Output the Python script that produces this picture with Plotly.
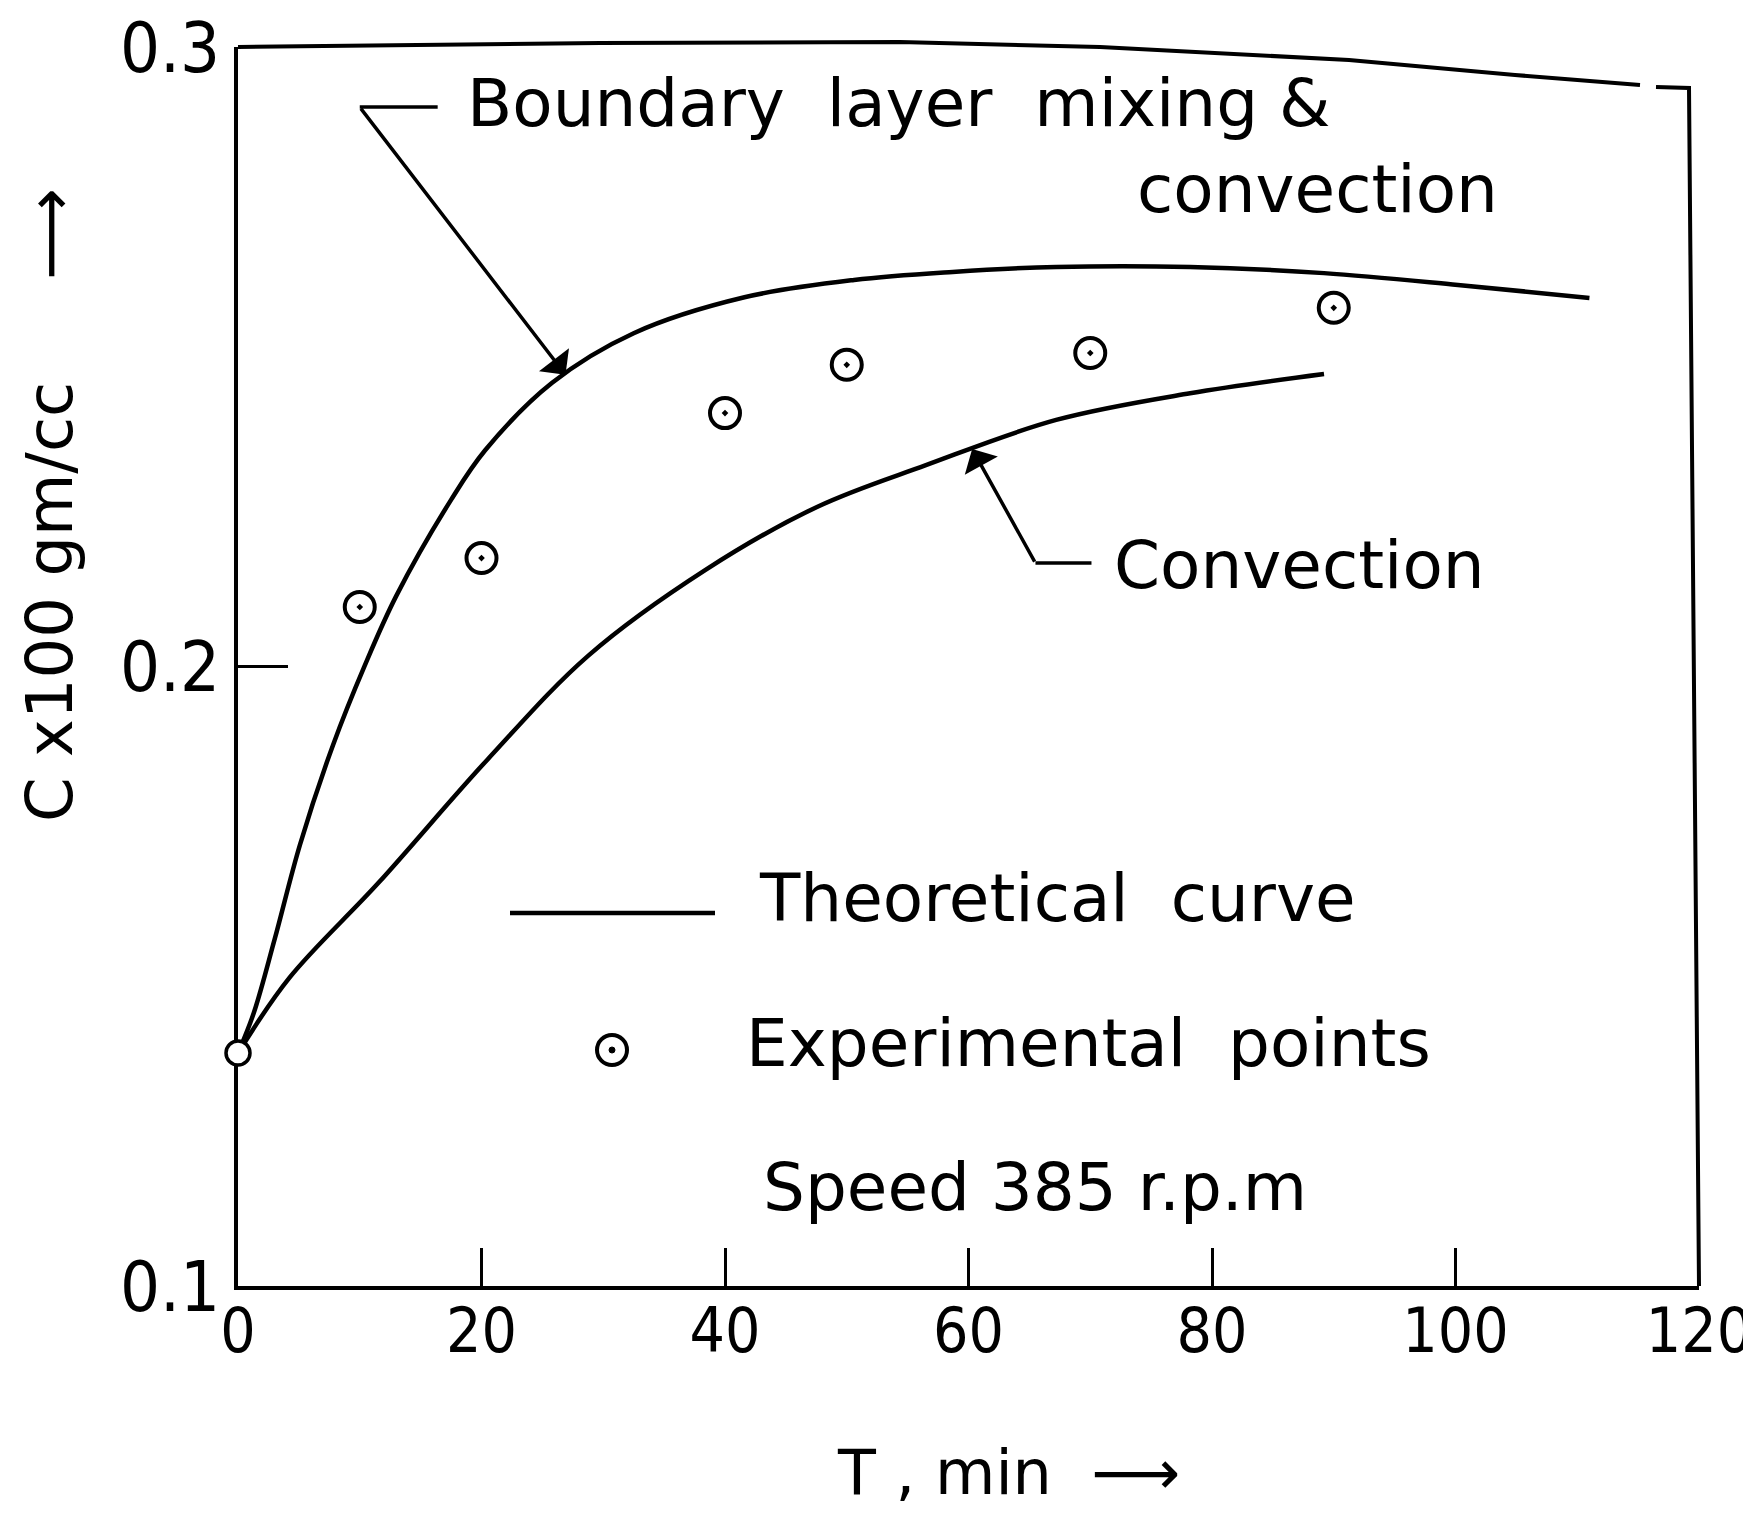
import plotly.graph_objects as go

# ---------------- data ----------------
upper_x = [0, 1.3, 3.0, 5.1, 7.8, 10.4, 13.0, 17.5, 20.3, 25.8, 32.5, 41.6, 50.6, 58.7, 67.2, 78.2, 89.2, 100.2, 111.0]
upper_y = [0.1376, 0.1441, 0.1559, 0.1713, 0.1873, 0.2001, 0.2114, 0.2269, 0.2349, 0.2458, 0.2538, 0.2596,
           0.2624, 0.2637, 0.2645, 0.2645, 0.2635, 0.2616, 0.2595]

lower_x = [0, 4.2, 11.5, 20.5, 28.8, 38.4, 47.6, 56.5, 67.2, 78.2, 89.2]
lower_y = [0.1376, 0.1497, 0.1650, 0.1850, 0.2018, 0.2156, 0.2258, 0.2325, 0.2398, 0.2441, 0.2472]

exp_x = [10, 20, 40, 50, 70, 90]
exp_y = [0.2096, 0.2175, 0.2409, 0.2487, 0.2506, 0.2579]

start_x = [0]
start_y = [0.1376]

x_ticks = [0, 20, 40, 60, 80, 100, 120]
y_ticks = [0.1, 0.2, 0.3]
y_ticktext = ["0.1", "0.2", "0.3"]

# ---------------- layout geometry (target page pixels) ----------------
OFF = 8                      # default page body margin
FW, FH = 1751 - OFF, 1516 - OFF
L, R, T, B = 238, 1699, 47, 1286


def pxx(x):
    return (x - L) / (R - L)


def pxy(y):
    return (B - y) / (B - T)


TICKFONT = "Liberation Sans Narrow, Arial Narrow, DejaVu Sans Condensed, Liberation Sans, sans-serif"
TEXTFONT = "DejaVu Sans, Liberation Sans, sans-serif"
NB = "\u00a0"

fig = go.Figure()

fig.add_trace(go.Scatter(x=upper_x, y=upper_y, mode="lines",
                         line=dict(color="black", width=4.5, shape="spline", smoothing=1.0),
                         name="Boundary layer mixing & convection", showlegend=False, cliponaxis=False))
fig.add_trace(go.Scatter(x=lower_x, y=lower_y, mode="lines",
                         line=dict(color="black", width=4.5, shape="spline", smoothing=1.0),
                         name="Convection", showlegend=False, cliponaxis=False))
fig.add_trace(go.Scatter(x=exp_x, y=exp_y, mode="markers",
                         marker=dict(symbol="circle-open-dot", size=30, color="black", line=dict(width=4, color="black")),
                         name="Experimental points", showlegend=False))
fig.add_trace(go.Scatter(x=start_x, y=start_y, mode="markers",
                         marker=dict(symbol="circle", size=24, color="white", line=dict(width=3.5, color="black")),
                         name="Initial", showlegend=False, cliponaxis=False))

shapes = []
# curved top border and right border (hand-drawn frame)
top_px = [(238, 47), (600, 43), (900, 42), (1100, 47), (1349, 60), (1515, 75), (1640, 85)]
path = "M " + " L ".join(f"{pxx(a):.5f},{pxy(b):.5f}" for a, b in top_px)
shapes.append(dict(type="path", xref="paper", yref="paper", path=path, line=dict(color="black", width=4)))
corner_px = [(1656, 87), (1689, 88), (1699, 1286)]
path2 = "M " + " L ".join(f"{pxx(a):.5f},{pxy(b):.5f}" for a, b in corner_px)
shapes.append(dict(type="path", xref="paper", yref="paper", path=path2, line=dict(color="black", width=4)))

# label leaders: start of the leader, end of its horizontal part, and arrow tip on the curve
bl_start, bl_hend, bl_tip = (10.0, 0.2903), (16.4, 0.2903), (26.9, 0.2471)
cv_start, cv_hend, cv_tip = (65.5, 0.2167), (70.1, 0.2167), (60.3, 0.2351)
for s, e in ((bl_start, bl_hend), (cv_start, cv_hend)):
    shapes.append(dict(type="line", xref="x", yref="y", x0=s[0], y0=s[1], x1=e[0], y1=e[1],
                       line=dict(color="black", width=3.5)))

# legend keys
shapes.append(dict(type="line", xref="paper", yref="paper", x0=pxx(510), x1=pxx(715), y0=pxy(913), y1=pxy(913),
                   line=dict(color="black", width=4.5)))
shapes.append(dict(type="circle", xref="paper", yref="paper", xsizemode="pixel", ysizemode="pixel",
                   xanchor=pxx(612), yanchor=pxy(1050), x0=-15, x1=15, y0=-15, y1=15,
                   line=dict(color="black", width=4)))
shapes.append(dict(type="circle", xref="paper", yref="paper", xsizemode="pixel", ysizemode="pixel",
                   xanchor=pxx(612), yanchor=pxy(1050), x0=-3, x1=3, y0=-3, y1=3,
                   fillcolor="black", line=dict(color="black", width=1)))

annotations = []
for s, tip in ((bl_start, bl_tip), (cv_start, cv_tip)):
    annotations.append(dict(x=tip[0], y=tip[1], xref="x", yref="y", ax=s[0], ay=s[1],
                            axref="x", ayref="y", text="", showarrow=True, arrowhead=1, arrowsize=1.8,
                            arrowwidth=3.5, arrowcolor="black", standoff=0))


def txt(text, xpix, ypix, size=66, anchor="left", angle=0):
    annotations.append(dict(text=text, x=pxx(xpix), y=pxy(ypix), xref="paper", yref="paper",
                            xanchor=anchor, yanchor="middle", showarrow=False, textangle=angle,
                            font=dict(family=TEXTFONT, size=size, color="black")))


txt(f"Boundary{NB*2}layer{NB*2}mixing{NB}&", 465, 103)
txt("convection", 1135, 190)
txt("Convection", 1112, 565)
txt(f"Theoretical{NB*2}curve", 757, 898)
txt(f"Experimental{NB*2}points", 744, 1043)
txt("Speed 385 r.p.m", 761, 1187)
# axis titles
txt(f"T{NB},{NB}min{NB*2}\u27f6", 1008, 1472, size=62, anchor="center")
txt(f"C{NB}x100{NB}gm/cc{NB*5}\u27f6", 50, 505, size=64, anchor="center", angle=-90)

fig.update_layout(
    width=FW, height=FH,
    margin=dict(l=L - OFF, r=FW + OFF - R, t=T - OFF, b=FH + OFF - B, pad=0, autoexpand=False),
    paper_bgcolor="white", plot_bgcolor="white",
    shapes=shapes, annotations=annotations, showlegend=False,
    xaxis=dict(range=[0, 120], tickvals=x_ticks, ticks="inside", ticklen=38, tickwidth=3,
               tickcolor="black", automargin=False,
               showline=True, linewidth=4, linecolor="black", showgrid=False, zeroline=False,
               ticklabeloverflow="allow", ticklabelstandoff=-12,
               tickfont=dict(family=TICKFONT, size=62, color="black"), layer="below traces"),
    yaxis=dict(range=[0.1, 0.3], tickvals=y_ticks, ticktext=y_ticktext, ticks="inside", ticklen=50, tickwidth=3,
               tickcolor="black", automargin=False,
               showline=True, linewidth=4, linecolor="black", showgrid=False, zeroline=False,
               ticklabeloverflow="allow",
               tickfont=dict(family=TICKFONT, size=70, color="black"), layer="below traces"),
)

fig.write_html("out.html")
